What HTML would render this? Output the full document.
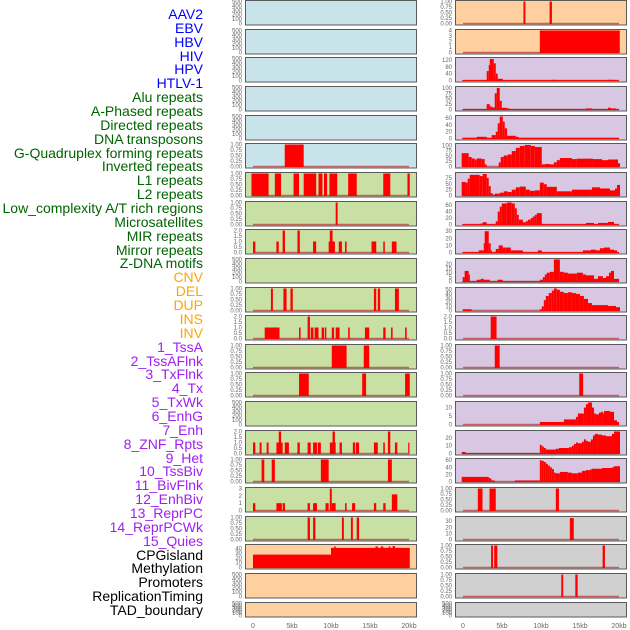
<!DOCTYPE html>
<html><head><meta charset="utf-8">
<style>
body{margin:0;background:#fff;width:630px;height:630px;overflow:hidden;position:relative;font-family:"Liberation Sans",sans-serif}
.lab{position:absolute;right:427px;font-size:14px;line-height:14px;white-space:nowrap}
svg{position:absolute;left:0;top:0}
</style></head><body>
<div id="labels"></div>
<svg id="chart" width="630" height="630"></svg>
<script>
const trackNames=["AAV2","EBV","HBV","HIV","HPV","HTLV-1","Alu repeats","A-Phased repeats","Directed repeats","DNA transposons","G-Quadruplex forming repeats","Inverted repeats","L1 repeats","L2 repeats","Low_complexity A/T rich regions","Microsatellites","MIR repeats","Mirror repeats","Z-DNA motifs","CNV","DEL","DUP","INS","INV","1_TssA","2_TssAFlnk","3_TxFlnk","4_Tx","5_TxWk","6_EnhG","7_Enh","8_ZNF_Rpts","9_Het","10_TssBiv","11_BivFlnk","12_EnhBiv","13_ReprPC","14_ReprPCWk","15_Quies","CPGisland","Methylation","Promoters","ReplicationTiming","TAD_boundary"];
const xTicks=[0,5,10,15,20];
const xTickLabels=["0","5kb","10kb","15kb","20kb"];
// segments: [startKb, endKb, value]
const L5=[[4.07,6.5,1]];
const L6=[[-0.2,2.0,1],[2.8,3.6,1],[5.2,5.9,1],[6.5,8.1,1],[8.4,8.9,1],[9.1,9.5,1],[9.8,10.8,1],[12.2,13.3,1],[16.7,17.6,1],[19.8,20.1,1]];
const L7=[[10.6,10.85,1]];
const L8=[[0,0.3,1],[3.0,3.3,1],[3.8,4.1,2],[5.7,6.0,2],[7.7,8.1,1],[9.7,10.5,1],[9.85,10.2,2],[11.0,11.4,1],[11.8,12.0,1],[15.2,15.8,1],[16.7,16.9,1],[17.8,18.4,1]];
const L10=[[2.3,2.55,1],[3.9,4.3,1],[4.8,5.1,1],[15.5,15.8,1],[16.0,16.3,1],[18.2,18.7,1]];
const L11=[[1.5,3.4,1],[5.9,6.1,1],[7.0,7.3,2],[7.4,7.75,1],[7.9,8.4,1],[8.8,9.1,1],[9.2,9.4,1],[10.1,10.4,1],[10.6,11.1,1],[12.2,12.4,1],[14.35,14.9,1],[16.7,17.0,1],[17.7,17.9,1],[19.5,19.7,1]];
const L12=[[10.1,12.0,1],[14.2,14.9,1]];
const L13=[[5.9,7.15,1],[14.0,14.5,1],[19.5,20.1,1]];
const L15=[[0,0.3,1],[0.85,1.1,1],[1.75,2.0,1],[3.0,3.8,1],[3.3,3.6,2],[4.07,4.6,1],[5.7,6.0,1],[7.0,7.4,1],[7.7,8.2,1],[8.3,8.7,1],[9.85,10.6,1],[10.2,10.5,2],[11.1,11.4,1],[12.8,13.1,1],[13.2,13.6,1],[15.5,16.0,1],[16.7,16.9,1],[17.3,17.6,2],[18.2,18.5,1],[19.9,20.0,1]];
const L16=[[1.1,1.45,1],[2.4,2.8,1],[8.7,9.7,1],[17.3,17.8,1]];
const L17=[[0,0.3,1],[3.0,3.7,1],[3.8,4.1,1],[7.0,7.3,1],[7.7,8.2,1],[9.3,9.7,1],[9.85,10.1,3],[10.1,10.6,1],[11.8,12.0,1],[12.7,13.1,1],[15.5,15.8,1],[16.7,17.0,1],[17.8,18.5,2.2]];
const L18=[[7.0,7.3,1],[7.7,8.0,1],[11.4,11.65,1],[12.55,12.8,1],[13.3,13.6,1]];
const L19=[[0,10,27],[10,20.1,41],[10.4,10.6,44],[15.7,16.0,44],[16.4,16.7,44],[17.4,17.6,44],[17.9,18.2,45]];
const R0=[[7.75,8.0,1],[11.1,11.4,1]];
const R1=[[9.85,20.1,4]];
const R2=[[-0.1,20,2],[2.8,3.04,3],[3.04,3.3,55],[3.3,3.43,90],[3.43,3.94,125],[3.94,4.2,100],[4.2,4.45,40],[4.45,5.1,10],[11.4,11.9,4],[18.6,19.4,4]];
const R3=[[-0.1,20,2],[3.04,3.43,25],[3.43,3.68,15],[3.68,4.07,10],[4.07,4.33,75],[4.33,4.71,100],[4.71,4.97,40],[4.97,5.65,8],[5.65,6.0,5],[15.76,16.53,5],[18.59,18.97,8],[18.97,19.61,5]];
const R4=[[-0.1,20,2],[1.76,3.04,5],[3.68,4.2,10],[4.2,4.45,20],[4.45,4.71,45],[4.71,5.1,65],[5.1,5.35,50],[5.35,5.65,30],[5.65,6.77,8],[6.77,7.15,5]];
const R5=[[-0.17,0.73,63],[0.73,1.11,45],[1.11,1.5,38],[1.5,1.76,33],[1.76,2.4,38],[2.4,2.78,35],[2.78,3.04,10],[4.58,4.84,20],[4.84,5.22,45],[5.22,5.74,52],[5.74,6.25,57],[6.25,6.77,73],[6.77,7.28,88],[7.28,7.92,97],[7.92,8.69,102],[8.69,9.21,97],[9.21,10.1,92],[10.1,10.49,10],[10.49,11.13,12],[11.13,11.65,10],[11.65,12.03,20],[12.03,12.42,30],[12.42,13.96,40],[13.96,14.6,35],[14.6,16.66,37],[16.66,17.82,35],[17.82,18.59,30],[18.59,19.87,33],[19.87,20.13,15]];
const R6=[[-0.17,0.34,58],[0.34,0.6,55],[0.6,0.86,72],[0.86,2.14,88],[2.14,2.53,83],[2.53,3.04,92],[3.04,3.3,75],[3.3,3.55,40],[3.55,3.81,10],[3.81,4.07,3],[4.07,4.71,8],[4.71,5.22,12],[5.22,5.74,18],[5.74,6.25,15],[6.25,6.77,25],[6.77,7.28,35],[7.28,8.05,38],[8.05,8.57,25],[8.57,9.21,20],[9.21,9.85,22],[9.85,10.36,55],[10.36,10.75,48],[10.75,12.03,37],[12.03,13.96,18],[13.96,16.53,25],[16.53,17.56,35],[17.56,18.84,30],[18.84,19.49,22],[19.49,19.74,30],[19.74,20.13,45]];
const R7=[[-0.1,20,1],[2.27,2.53,3],[2.53,3.04,7],[4.2,4.45,10],[4.45,4.71,40],[4.71,4.97,55],[4.97,5.61,65],[5.61,6.25,68],[6.25,6.64,65],[6.64,6.9,50],[6.9,7.15,30],[7.15,7.67,15],[7.67,8.05,7],[8.05,8.31,10],[8.31,8.69,15],[8.69,8.95,20],[8.95,9.21,25],[9.21,9.46,30],[9.46,10.1,35],[15.76,16.79,5],[17.3,18.59,5],[18.59,19.36,8]];
const R8=[[-0.1,20,0.6],[2.01,2.66,3],[2.66,2.78,13],[2.78,3.3,30],[3.3,3.55,13],[3.55,3.68,3],[4.2,4.58,5],[4.58,5.1,10],[5.1,5.48,7],[5.48,6.12,7],[6.12,7.67,3],[9.59,10.1,3],[15.37,16.4,3],[16.4,17.04,4],[17.04,17.56,3],[17.56,18.07,6],[18.07,18.84,7],[18.84,19.36,4],[19.36,19.74,3]];
const R9=[[-0.1,20,0.5],[-0.04,0.21,5],[0.21,0.73,12],[0.73,0.86,8],[1.76,2.27,2],[2.27,2.66,3],[2.66,3.43,2],[4.45,5.1,2],[9.85,10.24,2],[10.24,10.49,5],[10.49,10.75,8],[10.75,11.13,10],[11.13,11.65,11],[11.65,12.42,25],[12.42,12.93,11],[12.93,13.45,10],[13.45,14.6,9],[14.6,15.37,10],[15.37,15.76,8],[15.76,16.79,7],[16.79,17.3,3],[17.3,17.94,6],[17.94,18.33,4],[18.33,18.72,6],[18.72,18.97,10],[18.97,19.36,12],[19.36,20.0,3]];
const R10=[[-0.04,1.11,3],[9.85,10.1,3],[10.1,10.36,10],[10.36,10.62,25],[10.62,11.0,35],[11.0,11.39,42],[11.39,11.65,48],[11.65,12.03,53],[12.03,12.42,50],[12.42,12.93,45],[12.93,13.45,42],[13.45,13.96,44],[13.96,14.48,42],[14.48,14.99,40],[14.99,15.5,35],[15.5,16.02,28],[16.02,16.53,18],[16.53,18.59,13],[18.59,19.61,11],[19.61,20.13,8]];
const R11=[[3.55,4.3,2]];
const R12=[[4.07,4.7,1]];
const R13=[[14.9,15.4,1]];
const R14=[[9.85,12.93,1.5],[12.93,14.48,3],[14.48,14.73,4.5],[14.73,15.5,6.5],[15.5,15.76,10],[15.76,16.02,12],[16.02,16.53,13],[16.53,16.79,10],[16.79,17.04,6.5],[17.04,17.43,6],[17.43,17.69,7],[17.69,17.94,7.5],[17.94,18.07,6.5],[18.07,18.84,8],[18.84,19.36,7.5],[19.36,19.74,2.5],[19.74,20.0,1.5]];
const R15=[[-0.17,0.34,2],[0.34,9.85,0.5],[9.85,10.1,11],[10.1,10.36,9],[10.36,10.62,7],[10.62,11.9,5],[11.9,12.29,6],[12.29,13.58,7],[13.58,13.96,8],[13.96,14.22,10],[14.22,14.48,12],[14.48,14.73,14],[14.73,15.25,13],[15.25,15.5,15],[15.5,15.76,18],[15.76,16.02,16],[16.02,16.4,15],[16.4,16.66,18],[16.66,16.92,23],[16.92,17.3,25],[17.3,17.82,24],[17.82,18.33,23],[18.33,19.1,22],[19.1,19.36,25],[19.36,20.13,28]];
const R16=[[-0.17,3.3,13],[3.3,3.55,10],[3.55,3.68,6],[3.68,4.07,3],[6.64,9.85,3],[9.85,10.1,60],[10.1,10.36,58],[10.36,10.62,55],[10.62,10.88,50],[10.88,11.13,45],[11.13,11.39,40],[11.39,11.65,35],[11.65,11.9,25],[11.9,12.42,23],[12.42,13.45,27],[13.45,13.96,25],[13.96,14.73,23],[14.73,15.25,25],[15.25,15.76,30],[15.76,16.27,32],[16.27,16.53,34],[16.53,17.82,36],[17.82,19.1,38],[19.1,19.36,40],[19.36,20.13,43]];
const R17=[[1.9,2.5,1],[3.4,4.2,1],[11.9,12.3,1]];
const R18=[[13.7,14.2,35]];
const R19=[[3.6,3.85,1],[4.0,4.4,1],[17.9,18.2,1]];
const R20=[[12.6,12.85,1],[14.4,14.7,1]];
const BG={b:"#c9e3eb",g:"#c8e0a3",o:"#fecf9f",p:"#d7c7e3",k:"#d0d0d0"};
const E=[0,100,200,300,400,500];
// panel config: [bg, ymax, ticks, tickLabels, data]
const fmt2=a=>a.map(v=>v.toFixed(2));
const T1=[0,0.25,0.5,0.75,1];
const T2=[0,0.5,1,1.5,2];
const left=[
 ["b",500,E,E,null],["b",500,E,E,null],["b",500,E,E,null],["b",500,E,E,null],["b",500,E,E,null],
 ["b",1,T1,fmt2(T1),L5],["g",1,T1,fmt2(T1),L6],["g",1,T1,fmt2(T1),L7],["g",2,T2,T2.map(v=>v.toFixed(1)),L8],
 ["g",500,E,E,null],["g",1,T1,fmt2(T1),L10],["g",2,T2,T2.map(v=>v.toFixed(1)),L11],["g",1,T1,fmt2(T1),L12],
 ["g",1,T1,fmt2(T1),L13],["g",500,E,E,null],["g",2,T2,T2.map(v=>v.toFixed(1)),L15],["g",1,T1,fmt2(T1),L16],
 ["g",3,[0,1,2,3],[0,1,2,3],L17],["g",1,T1,fmt2(T1),L18],["o",46,[0,10,20,30,40],[0,10,20,30,40],L19],
 ["o",500,E,E,null],["o",500,E,E,null]];
const right=[
 ["o",1,T1,fmt2(T1),R0],["o",4,[0,1,2,3,4],[0,1,2,3,4],R1],["p",128,[0,40,80,120],[0,40,80,120],R2],
 ["p",102,[0,25,50,75,100],[0,25,50,75,100],R3],["p",65,[0,20,40,60],[0,20,40,60],R4],
 ["p",104,[0,25,50,75,100],[0,25,50,75,100],R5],["p",94,[0,25,50,75],[0,25,50,75],R6],
 ["p",68,[0,20,40,60],[0,20,40,60],R7],["p",31,[0,10,20,30],[0,10,20,30],R8],["p",25,[0,5,10,15,20],[0,5,10,15,20],R9],
 ["p",53,[0,10,20,30,40,50],[0,10,20,30,40,50],R10],["p",2,T2,T2.map(v=>v.toFixed(1)),R11],["p",1,T1,fmt2(T1),R12],
 ["p",1,T1,fmt2(T1),R13],["p",13,[0,5,10],[0,5,10],R14],["p",28,[0,10,20],[0,10,20],R15],["p",62,[0,20,40,60],[0,20,40,60],R16],
 ["k",1,T1,fmt2(T1),R17],["k",36,[0,10,20,30],[0,10,20,30],R18],["k",1,T1,fmt2(T1),R19],["k",1,T1,fmt2(T1),R20],["k",500,E,E,null]];

const NS="http://www.w3.org/2000/svg";
const svg=document.getElementById("chart");
function mk(tag,attrs,parent){const e=document.createElementNS(NS,tag);for(const k in attrs)e.setAttribute(k,attrs[k]);(parent||svg).appendChild(e);return e;}

// labels
const labs=document.getElementById("labels");
const colorOf=i=>i<6?"#0000ff":i<19?"#006400":i<24?"#ffa500":i<39?"#a020f0":"#000";
trackNames.forEach((n,i)=>{
  const d=document.createElement("div");
  d.className="lab";d.textContent=n;
  d.style.top=(15+i*13.86-8)+"px";d.style.color=colorOf(i);
  
  
  labs.appendChild(d);
});

function drawColumn(panels,x0,col){
  const w=171;
  const xs=kb=>x0+8+kb*7.8;
  panels.forEach((p,i)=>{
    const top=Math.round(i*28.65), h=i===21?15:25;
    const g=mk("g",{});
    
    
    mk("rect",{x:x0+0.5,y:top+0.5,width:w,height:h-0.5,fill:BG[p[0]],stroke:"#5a5a5a","stroke-width":1},g);
    const ys=v=>top+h-1.5-(v/p[1])*(h-3);
    p[2].forEach((t,k)=>{
      const tx=mk("text",{x:x0-3,y:ys(t)+2,"text-anchor":"end","font-size":"6","fill":"#666","font-family":"Liberation Sans, sans-serif"},g);
      tx.textContent=p[3][k];
      
      
    });
    if(p[4]){
      mk("line",{x1:xs(0),x2:xs(20),y1:top+h-1.5,y2:top+h-1.5,stroke:"#b33",
        "stroke-opacity":0.7,"stroke-width":1.5},g);
      p[4].forEach(s=>{
        const y=ys(Math.min(s[2],p[1]));
        const r=mk("rect",{x:xs(s[0]),y:y,width:Math.max(1.2,xs(s[1])-xs(s[0])),height:top+h-1-y,fill:"#ff0000"},g);
        
        
      });
    }
  });
  xTicks.forEach((t,k)=>{
    const tx=mk("text",{x:xs(t),y:628,"text-anchor":"middle","font-size":"7","fill":"#666","font-family":"Liberation Sans, sans-serif"});
    tx.textContent=xTickLabels[k];
    
    
  });
}
drawColumn(left,245,"left");
drawColumn(right,455,"right");
</script>
</body></html>
